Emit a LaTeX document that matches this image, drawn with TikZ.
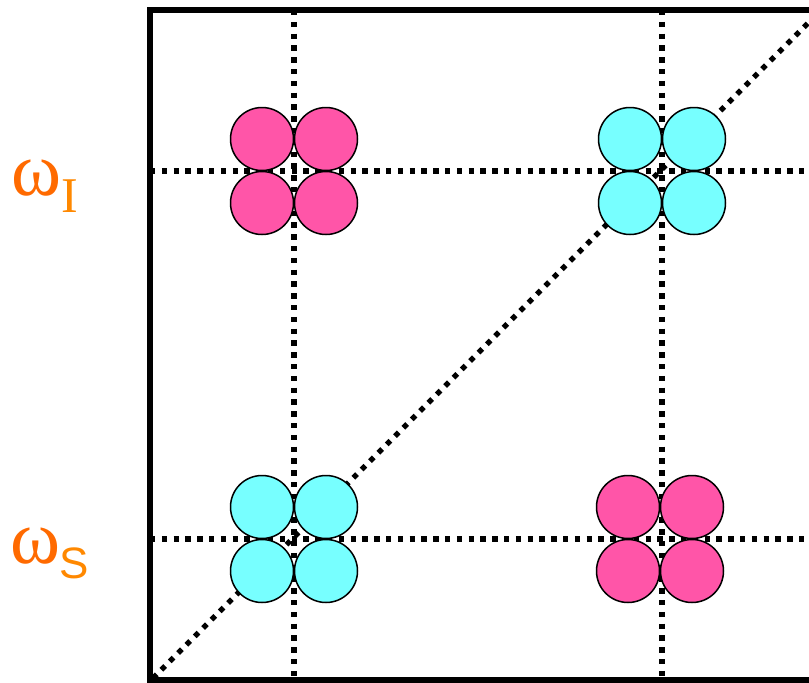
\documentclass[tikz,border=0pt]{standalone}
\usepackage{fontspec}
\setsansfont{Liberation Sans}
\newfontfamily\grfont{Liberation Serif}
\definecolor{pinkc}{HTML}{FF55A8}
\definecolor{cyanc}{HTML}{77FFFF}
\definecolor{orA}{HTML}{FF6A00}
\definecolor{orB}{HTML}{FF8800}
\tikzset{
  dotline/.style={line width=5.3pt, dash pattern=on 5.3pt off 6.5pt},
  ball/.style={circle, draw=black, line width=1.5pt, minimum size=63pt, inner sep=0pt},
  pinkball/.style={ball, fill=pinkc},
  cyanball/.style={ball, fill=cyanc},
  lab/.style={inner sep=0pt, anchor=base west}
}
\begin{document}
\begin{tikzpicture}[x=1pt,y=-1pt]
\useasboundingbox (0,0) rectangle (809,683);
\clip (0,0) rectangle (809,683);
% coordinates
\coordinate (tl) at (150,10);
\coordinate (br) at (822,680);
\coordinate (v1t) at (294,10);
\coordinate (v1b) at (294,680);
\coordinate (v2t) at (662,10);
\coordinate (v2b) at (662,680);
\coordinate (h1l) at (150,171);
\coordinate (h1r) at (822,171);
\coordinate (h2l) at (150,539);
\coordinate (h2r) at (822,539);
\coordinate (d1) at (153,678);
\coordinate (d2) at (822,9);
% dotted lines
\draw[dotline] (v1t) -- (v1b);
\draw[dotline] (v2t) -- (v2b);
\draw[dotline] (h1l) -- (h1r);
\draw[dotline] (h2l) -- (h2r);
\draw[dotline] (d1) -- (d2);
% frame
\draw[line width=5.5pt] (tl) rectangle (br);
% clusters
\foreach \cx/\cy/\st/\nm in {294/171/pinkball/a, 662/171/cyanball/b, 294/539/cyanball/c, 660/539/pinkball/d}{
  \node[\st] (\nm1) at (\cx-32,\cy-32) {};
  \node[\st] (\nm2) at (\cx+32,\cy-32) {};
  \node[\st] (\nm3) at (\cx-32,\cy+32) {};
  \node[\st] (\nm4) at (\cx+32,\cy+32) {};
}
% labels
\node[lab, text=orA, font=\grfont\fontsize{76}{76}\selectfont] (wI) at (11,195) {ω};
\node[lab, text=orB, font=\grfont\fontsize{50}{50}\selectfont] (sI) at (61,212) {I};
\node[lab, text=orA, font=\grfont\fontsize{76}{76}\selectfont] (wS) at (10,563) {ω};
\node[lab, text=orB, font=\sffamily\fontsize{44}{44}\selectfont] (sS) at (59,578) {S};
\end{tikzpicture}
\end{document}
